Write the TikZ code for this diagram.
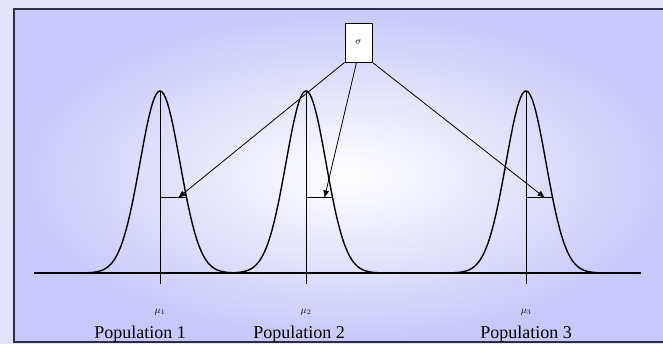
\documentclass[tikz,border=0pt]{standalone}
\usepackage{fontspec}
\setmainfont{Liberation Serif}
\usepackage{xcolor}
\definecolor{bglav}{RGB}{200,200,250}
\definecolor{bgpale}{RGB}{226,226,248}
\definecolor{frnavy}{RGB}{45,45,75}
\usepackage{tikz}
\usetikzlibrary{arrows.meta}
\newcommand{\bell}[1]{\draw[line width=1.4pt] plot[domain=-72:72,samples=90,smooth] ({#1+\x},{273-182*exp(-(\x*\x)/800)});}
\newcommand{\meanline}[2]{\draw[line width=0.9pt] (#1,91) -- (#1,284);
  \draw[line width=1.1pt] (#1,197.5) -- (#1+26.5,197.5) coordinate[pos=0.7] (#2);}

\begin{document}
\begin{tikzpicture}[x=1pt,y=-1pt,
  sigarrow/.style={line width=0.8pt,-{Triangle[length=7pt,width=5.5pt]}},
  poplab/.style={font=\fontsize{18}{18}\selectfont,inner sep=0pt,anchor=base},
  mulab/.style={font=\fontsize{10}{10}\selectfont,inner sep=0pt}]
\useasboundingbox (0,0) rectangle (663,344);
% ---- tlo ----
\fill[bgpale] (0,0) rectangle (663,344);
\shade[inner color=white,outer color=bglav] (14,9) rectangle (680,342);
\draw[frnavy,line width=1.6pt] (663,9) -- (14,9) -- (14,342) -- (663,342);
% ---- krzywe ----
\draw[line width=1.3pt] (34,273) -- (641,273);
\bell{160}
\bell{306}
\bell{526}
\meanline{160}{s1}
\meanline{306}{s2}
\meanline{526}{s3}
% ---- sigma ----
\node[draw,line width=0.9pt,fill=white,minimum width=27pt,minimum height=39pt,inner sep=0pt] (sig) at (358.5,42.5) {\fontsize{10}{10}\selectfont$\sigma$};
\draw[sigarrow] (sig.south west) -- (s1);
\draw[sigarrow] ([xshift=-2pt]sig.south) -- (s2);
\draw[sigarrow] (sig.south east) -- (s3);
% ---- opisy ----
\node[mulab] (m1) at (160,312) {$\mu_1$};
\node[mulab] (m2) at (306,312) {$\mu_2$};
\node[mulab] (m3) at (526,312) {$\mu_3$};
\node[poplab] (p1) at (140,338) {Population 1};
\node[poplab] (p2) at (299,338) {Population 2};
\node[poplab] (p3) at (526,338) {Population 3};
\end{tikzpicture}
\end{document}
